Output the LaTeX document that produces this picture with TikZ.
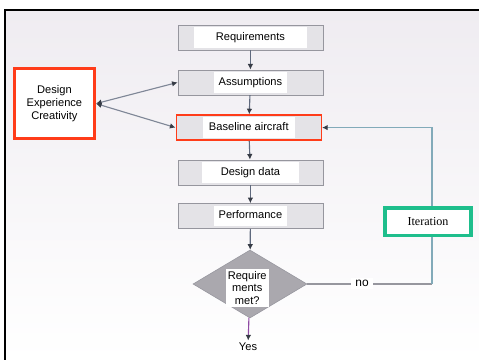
\documentclass[tikz,border=0pt]{standalone}
\usepackage{fontspec}
\setmainfont{Liberation Sans}
\newfontfamily\itfont{Liberation Serif}
\usetikzlibrary{arrows.meta,positioning,shapes.geometric}

\definecolor{bgtop}{RGB}{239,236,241}
\definecolor{boxfill}{RGB}{228,227,231}
\definecolor{boxline}{RGB}{150,150,158}
\definecolor{flow}{RGB}{95,105,125}
\definecolor{tipcol}{RGB}{55,60,70}
\definecolor{redline}{RGB}{255,60,25}
\definecolor{greenline}{RGB}{30,190,140}
\definecolor{loopline}{RGB}{130,170,185}
\definecolor{diafill}{RGB}{170,168,174}

\setlength{\fboxsep}{1.5pt}
\newcommand{\boxlab}[2]{\colorbox{white}{\makebox[#1]{\rule[-0.13cm]{0pt}{0.40cm}#2}}}

\begin{document}
\begin{tikzpicture}[
      font=\fontsize{7.9}{9.2}\selectfont,
      blk/.style={rectangle,draw=boxline,fill=boxfill,minimum width=3.625cm,minimum height=0.625cm,inner sep=0pt},
      redblk/.style={blk,draw=redline,line width=1.1pt},
      dec/.style={rectangle,draw=redline,line width=2.2pt,fill=white,minimum width=2.0cm,minimum height=1.75cm,align=center,inner sep=0pt},
      iter/.style={rectangle,draw=greenline,line width=2.2pt,fill=white,minimum width=2.15cm,minimum height=0.68cm,font=\itfont\fontsize{8.6}{10}\selectfont},
      check/.style={diamond,draw=boxline,fill=diafill,minimum width=2.85cm,minimum height=1.7cm,inner sep=0pt},
      tag/.style={fill=white,inner sep=1.5pt,align=center},
      arrow/.style={-{Latex[length=4pt,width=4pt,color=tipcol]},draw=flow,thick},
      twoway/.style={{Latex[length=4pt,width=4pt,color=tipcol]}-{Latex[length=4pt,width=4pt,color=tipcol]},draw=flow!80,thick},
      >=Latex
    ]

    % background and frame
    \useasboundingbox (0,0) rectangle (11.975,-9);
    \shade[top color=bgtop,bottom color=white] (0.125,-0.25) rectangle (11.975,-9);
    \draw[line width=1.1pt] (11.975,-0.25) -- (0.125,-0.25) -- (0.125,-9);

    % Main column
    \node[blk] (req) at (6.26,-0.94) {\boxlab{2.7cm}{Requirements}};
    \node[blk] (asm) at (6.26,-2.06) {\boxlab{1.7cm}{Assumptions}};
    \node[redblk] (base) at (6.22,-3.19) {\boxlab{2.18cm}{Baseline aircraft}};
    \node[blk] (data) at (6.26,-4.31) {\boxlab{2.33cm}{Design data}};
    \node[blk] (perf) at (6.26,-5.40) {\boxlab{1.73cm}{Performance}};

    \draw[arrow] (req) -- (asm);
    \draw[arrow] (asm) -- (base);
    \draw[arrow] (base) -- (data);
    \draw[arrow] (data) -- (perf);

    % Decision
    \node[check] (chk) at (6.25,-7.1) {};
    \node[tag] (chkT) at (6.18,-7.2) {Require\\ments\\met?};
    \node[tag] (yes) at (6.2,-8.67) {Yes};

    \draw[arrow] (perf) -- (chk);
    \draw[arrow,draw=flow!70!magenta] (chk) -- (yes);

    % Left input
    \node[dec] (dec) at (1.36,-2.59) {Design\\Experience\\Creativity};

    \draw[twoway] (dec.east) -- (asm.west);
    \draw[twoway] (dec.east) -- (base.west);

    % Iteration loop
    \coordinate (lowC) at (10.8,-7.1);
    \coordinate (upC) at (10.8,-3.19);
    \draw[draw=boxline,thick] (chk.east) -- (lowC);
    \draw[arrow,draw=loopline] (lowC) -- (upC) -- (base.east);
    \node[tag,font=\fontsize{8.5}{10}\selectfont,inner xsep=3pt] (no) at (9.05,-7.08) {no};
    \node[iter] (iter) at (10.7,-5.54) {Iteration};

  \end{tikzpicture}
\end{document}
